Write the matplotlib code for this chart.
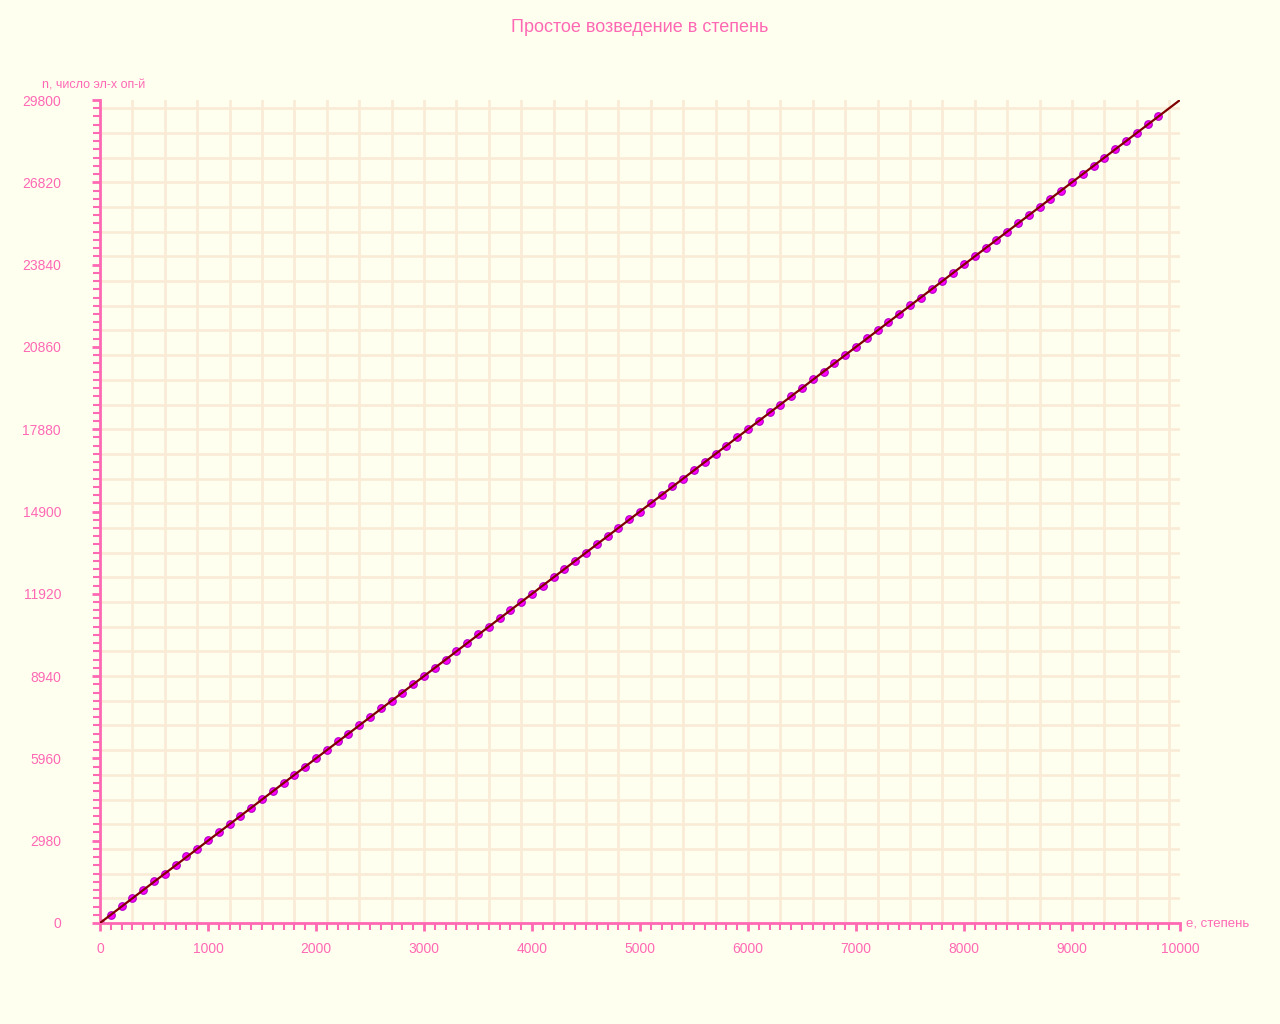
import matplotlib
matplotlib.use("Agg")
import matplotlib.pyplot as plt
import numpy as np

plt.rcParams["font.family"] = ["Liberation Sans", "DejaVu Sans"]

PINK = "#ff69b4"
BG = "#fffff0"
GRID = "#faebd7"

# measured points: exponent e vs number of elementary operations n
e_vals = [0, 100, 200, 300, 400, 500, 600, 700, 800, 900,
          1000, 1100, 1200, 1300, 1400, 1500, 1600, 1700, 1800, 1900,
          2000, 2100, 2200, 2300, 2400, 2500, 2600, 2700, 2800, 2900,
          3000, 3100, 3200, 3300, 3400, 3500, 3600, 3700, 3800, 3900,
          4000, 4100, 4200, 4300, 4400, 4500, 4600, 4700, 4800, 4900,
          5000, 5100, 5200, 5300, 5400, 5500, 5600, 5700, 5800, 5900,
          6000, 6100, 6200, 6300, 6400, 6500, 6600, 6700, 6800, 6900,
          7000, 7100, 7200, 7300, 7400, 7500, 7600, 7700, 7800, 7900,
          8000, 8100, 8200, 8300, 8400, 8500, 8600, 8700, 8800, 8900,
          9000, 9100, 9200, 9300, 9400, 9500, 9600, 9700, 9800]
n_vals = [0, 298, 620, 894, 1192, 1520, 1788, 2086, 2410, 2682,
          3010, 3278, 3576, 3874, 4172, 4490, 4768, 5066, 5364, 5662,
          5960, 6258, 6580, 6854, 7152, 7450, 7770, 8046, 8344, 8642,
          8940, 9250, 9536, 9834, 10132, 10450, 10728, 11026, 11324, 11640,
          11920, 12218, 12530, 12814, 13112, 13410, 13708, 14006, 14304, 14620,
          14900, 15198, 15496, 15810, 16092, 16390, 16688, 16986, 17284, 17582,
          17880, 18178, 18490, 18774, 19072, 19370, 19690, 19966, 20264, 20562,
          20860, 21170, 21456, 21754, 22052, 22370, 22648, 22946, 23244, 23542,
          23860, 24138, 24436, 24734, 25032, 25330, 25628, 25926, 26224, 26522,
          26820, 27118, 27416, 27714, 28012, 28310, 28608, 28920, 29204]
fit_e = [0, 10000]
fit_n = [0, 29800]

fig = plt.figure(figsize=(12.8, 10.24), dpi=100, facecolor=BG)
ax = fig.add_axes([100 / 1280, 1 - 923 / 1024, 1080 / 1280, 823 / 1024], facecolor=BG)

ax.set_xlim(0, 10000)
ax.set_ylim(0, 29800)
ax.set_xticks(np.arange(0, 10001, 1000))
ax.set_xticks(np.arange(0, 10001, 100), minor=True)
ax.set_yticks(np.arange(0, 29801, 2980))
ax.set_yticks(np.arange(0, 29801, 298), minor=True)

for x in np.arange(300, 10000, 300):
    ax.axvline(x, color=GRID, lw=2, zorder=0)
for y in np.arange(894, 29800, 894):
    ax.axhline(y, color=GRID, lw=2, zorder=0)

ax.plot(fit_e, fit_n, color="#800000", lw=1.6, zorder=3)
ax.scatter(e_vals, n_vals, s=30, c="#ff00ff", edgecolors="#b000c0", linewidths=0.8, zorder=2)

for s in ("top", "right"):
    ax.spines[s].set_visible(False)
for s in ("left", "bottom"):
    ax.spines[s].set_color(PINK)
    ax.spines[s].set_linewidth(2)
ax.tick_params(which="both", direction="out", colors=PINK, labelcolor=PINK, labelsize=10)
ax.tick_params(which="major", length=6, width=2)
ax.tick_params(which="minor", length=5, width=1.5)
ax.tick_params(axis="y", pad=22)
ax.tick_params(axis="x", pad=8)

fig.text(42 / 1280, 1 - 86 / 1024, "n, число эл-х оп-й", color=PINK, fontsize=9, va="center")
fig.text(1186 / 1280, 1 - 924 / 1024, "e, степень", color=PINK, fontsize=9.5, va="center")
fig.text(0.5, 1 - 28 / 1024, "Простое возведение в степень", color=PINK, fontsize=13, ha="center", va="center")

fig.savefig("out.png", dpi=100, facecolor=BG)
